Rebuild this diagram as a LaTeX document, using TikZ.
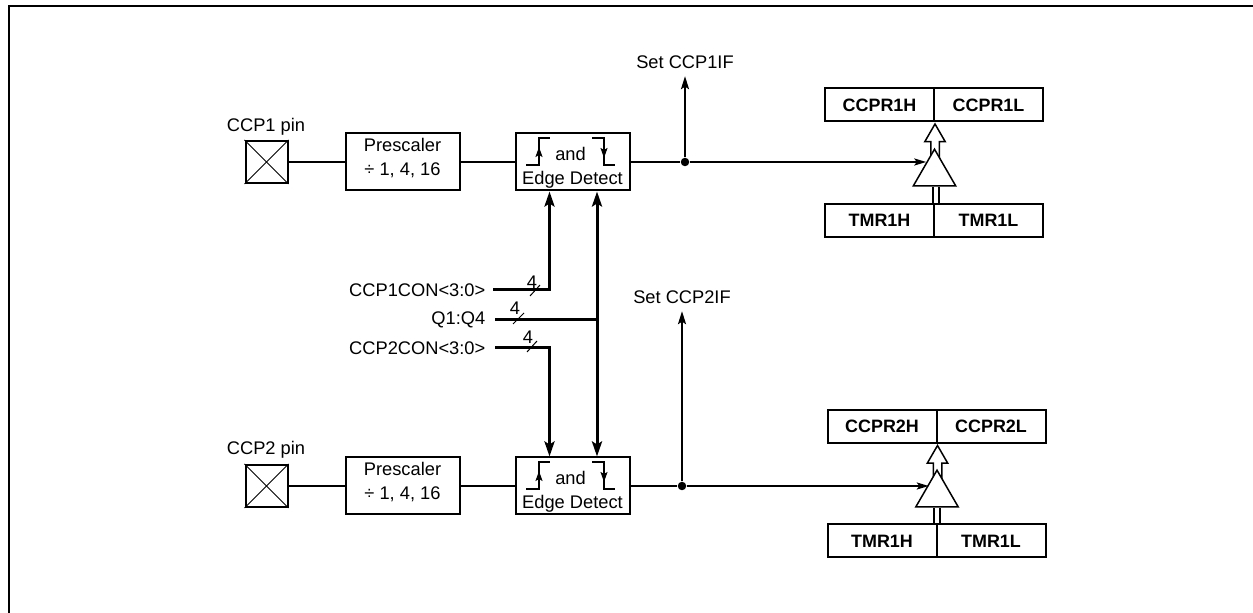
\documentclass[tikz,border=0pt]{standalone}
\usepackage{fontspec}
\setmainfont{Liberation Sans}
\usetikzlibrary{arrows.meta,shapes.geometric,shapes.arrows}
\begin{document}
\begin{tikzpicture}[
      every node/.style={font=\fontsize{5.2}{6.8}\selectfont, inner sep=0pt},
      blockbox/.style={rectangle, draw=black, line width=0.02cm, minimum width=1.14cm, minimum height=0.57cm, align=center},
      pinbox/.style={rectangle, draw=black, line width=0.02cm, minimum size=0.42cm},
      regbox/.style={rectangle, draw=black, line width=0.02cm, minimum width=1.09cm, minimum height=0.33cm, font=\fontsize{5.1}{6.8}\selectfont\bfseries},
      junction/.style={circle, fill=black, minimum size=0.085cm},
      compare/.style={regular polygon, regular polygon sides=3, draw=black, fill=white, line width=0.015cm, minimum size=0.49cm},
      hollow/.style={single arrow, draw=black, fill=white, line width=0.015cm, shape border rotate=90, minimum height=0.42cm, minimum width=0.19cm, inner sep=0.035cm, single arrow head extend=0.06cm, single arrow tip angle=60},
      wire/.style={line width=0.02cm},
      flag/.style={wire, -{Stealth[length=0.13cm, width=0.08cm, inset=0.025cm]}},
      feed/.style={wire, -{Stealth[length=0.12cm, width=0.07cm, inset=0.025cm]}},
      bus/.style={line width=0.03cm},
      busin/.style={bus, -{Stealth[length=0.15cm, width=0.1cm, inset=0.03cm]}},
      twoway/.style={bus, {Stealth[length=0.15cm, width=0.1cm, inset=0.03cm]}-{Stealth[length=0.15cm, width=0.1cm, inset=0.03cm]}},
      twin/.style={draw=black, line width=0.016cm, double=white, double distance=0.044cm},
      edgeline/.style={line width=0.015cm},
      edgetip/.style={line width=0.015cm, -{Stealth[length=0.1cm, width=0.07cm, inset=0.02cm]}},
      slashline/.style={line width=0.01cm}
  ]
    \useasboundingbox (0,0) rectangle (12.53,-6.13);
    \draw[wire] (0.09,-6.13) -- (0.09,-0.06) -- (12.53,-0.06);

    \node[pinbox] (pinone) at (2.665,-1.62) {};
    \node[pinbox] (pintwo) at (2.665,-4.86) {};
    \node (pinonetext) at (2.66,-1.27) {CCP1 pin};
    \node (pintwotext) at (2.66,-4.50) {CCP2 pin};
    \node[blockbox] (preone) at (4.025,-1.62) {Prescaler\\÷ 1, 4, 16\rule[-0.1cm]{0pt}{0pt}};
    \node[blockbox] (pretwo) at (4.025,-4.86) {Prescaler\\÷ 1, 4, 16\rule[-0.1cm]{0pt}{0pt}};
    \node[blockbox] (edgeone) at (5.725,-1.62) {\rule{0pt}{0.25cm}and\kern0.04cm\\Edge Detect};
    \node[blockbox] (edgetwo) at (5.725,-4.86) {\rule{0pt}{0.25cm}and\kern0.04cm\\Edge Detect};

    \foreach \x in {pinone,pintwo} {
      \draw[slashline] (\x.north west) -- (\x.south east);
      \draw[slashline] (\x.south west) -- (\x.north east);
    }
    \foreach \x in {edgeone,edgetwo} {
      \draw[edgeline] ([shift={(-0.465,-0.03)}]\x.center) -- ++(0.13,0) -- ++(0,0.27) -- ++(0.11,0);
      \draw[edgetip] ([shift={(-0.335,0.04)}]\x.center) -- ([shift={(-0.335,0.15)}]\x.center);
      \draw[edgeline] ([shift={(0.195,0.24)}]\x.center) -- ++(0.12,0) -- ++(0,-0.27) -- ++(0.11,0);
      \draw[edgetip] ([shift={(0.315,0.15)}]\x.center) -- ([shift={(0.315,0.04)}]\x.center);
    }

    \draw[wire] (pinone) -- (preone);
    \draw[wire] (preone) -- (edgeone);
    \draw[wire] (pintwo) -- (pretwo);
    \draw[wire] (pretwo) -- (edgetwo);

    \node[anchor=east] (conone) at (4.86,-2.90) {CCP1CON<3:0>};
    \node[anchor=east] (qclock) at (4.86,-3.20) {Q1:Q4};
    \node[anchor=east] (context) at (4.86,-3.48) {CCP2CON<3:0>};
    \node (busone) at (5.32,-2.82) {4};
    \node (busclock) at (5.15,-3.08) {4};
    \node (bustwo) at (5.28,-3.37) {4};

    \draw[busin] ([xshift=0.07cm]conone.east) -| ([xshift=-0.23cm]edgeone.south);
    \draw[busin] ([xshift=0.09cm]context.east) -| ([xshift=-0.23cm]edgetwo.north);
    \draw[twoway] ([xshift=0.245cm]edgeone.south) -- ([xshift=0.245cm]edgetwo.north);
    \draw[bus] ([xshift=0.09cm]qclock.east) -- ([xshift=0.245cm]edgeone.south |- qclock.east);
    \draw[slashline] (5.30,-2.96) -- (5.40,-2.85);
    \draw[slashline] (5.13,-3.24) -- (5.24,-3.13);
    \draw[slashline] (5.27,-3.52) -- (5.37,-3.41);

    \node[junction] (dotone) at (6.85,-1.62) {};
    \node[junction] (dottwo) at (6.82,-4.86) {};
    \node (flagone) at (6.85,-0.62) {Set CCP1IF};
    \node (flagtwo) at (6.82,-2.97) {Set CCP2IF};
    \draw[wire] (edgeone) -- (dotone);
    \draw[wire] (edgetwo) -- (dottwo);
    \draw[flag] (dotone) -- ([yshift=-0.07cm]flagone.south);
    \draw[flag] (dottwo) -- ([yshift=-0.07cm]flagtwo.south);

    \node[regbox] (ccpronehigh) at (8.795,-1.05) {CCPR1H};
    \node[regbox] (ccpronelow) at (9.885,-1.05) {CCPR1L};
    \node[regbox] (tmronehigh) at (8.795,-2.205) {TMR1H};
    \node[regbox] (tmronelow) at (9.885,-2.205) {TMR1L};
    \node[regbox] (ccprtwohigh) at (8.82,-4.265) {CCPR2H};
    \node[regbox] (ccprtwolow) at (9.91,-4.265) {CCPR2L};
    \node[regbox] (tmrtwohigh) at (8.82,-5.41) {TMR1H};
    \node[regbox] (tmrtwolow) at (9.91,-5.41) {TMR1L};

    \node[hollow, anchor=tip] (upone) at (ccpronehigh.south east) {};
    \node[hollow, anchor=tip] (uptwo) at (ccprtwohigh.south east) {};
    \node[compare] (compone) at (9.345,-1.737) {};
    \node[compare] (comptwo) at (9.37,-4.947) {};

    \draw[feed] (dotone) -- (dotone -| compone.125);
    \draw[feed] (dottwo) -- (dottwo -| comptwo.125);
    \draw[twin] ([xshift=0.01cm]tmronehigh.north east) -- ([xshift=0.01cm]compone.side 2 -| tmronehigh.north east);
    \draw[twin] ([xshift=-0.005cm]tmrtwohigh.north east) -- ([xshift=-0.005cm]comptwo.side 2 -| tmrtwohigh.north east);
\end{tikzpicture}
\end{document}
